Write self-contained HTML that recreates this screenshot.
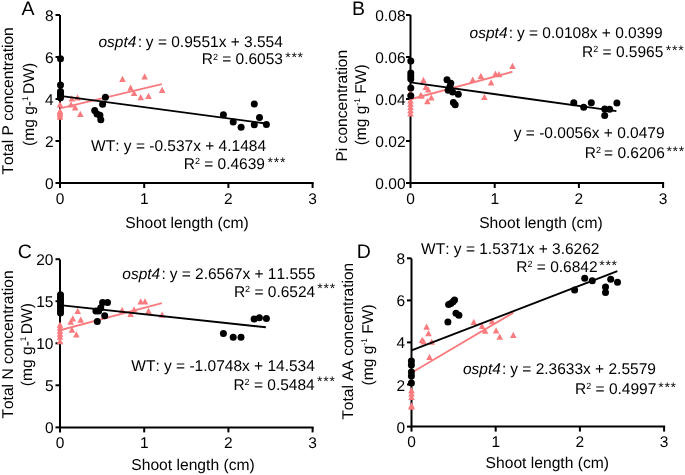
<!DOCTYPE html>
<html><head><meta charset="utf-8"><style>
html,body{margin:0;padding:0;background:#fff;}
svg{display:block;will-change:transform;font-kerning:none;text-rendering:geometricPrecision;font-family:"Liberation Sans",sans-serif;}
text{fill:#000;}
</style></head><body>
<svg width="685" height="475" viewBox="0 0 685 475">
<rect width="685" height="475" fill="#fff"/>
<path d="M60 15V183H313.6" fill="none" stroke="#000" stroke-width="2"/>
<path d="M55.5 183.0H60" stroke="#000" stroke-width="2"/>
<text x="53.5" y="189.0" text-anchor="end" font-size="15.5">0</text>
<path d="M55.5 141.0H60" stroke="#000" stroke-width="2"/>
<text x="53.5" y="147.0" text-anchor="end" font-size="15.5">2</text>
<path d="M55.5 99.0H60" stroke="#000" stroke-width="2"/>
<text x="53.5" y="105.0" text-anchor="end" font-size="15.5">4</text>
<path d="M55.5 57.0H60" stroke="#000" stroke-width="2"/>
<text x="53.5" y="63.0" text-anchor="end" font-size="15.5">6</text>
<path d="M55.5 15.0H60" stroke="#000" stroke-width="2"/>
<text x="53.5" y="21.0" text-anchor="end" font-size="15.5">8</text>
<path d="M60.0 183V188" stroke="#000" stroke-width="2"/>
<text x="60.0" y="203.8" text-anchor="middle" font-size="15.5">0</text>
<path d="M144.2 183V188" stroke="#000" stroke-width="2"/>
<text x="144.2" y="203.8" text-anchor="middle" font-size="15.5">1</text>
<path d="M228.4 183V188" stroke="#000" stroke-width="2"/>
<text x="228.4" y="203.8" text-anchor="middle" font-size="15.5">2</text>
<path d="M312.6 183V188" stroke="#000" stroke-width="2"/>
<text x="312.6" y="203.8" text-anchor="middle" font-size="15.5">3</text>
<path d="M56.70 107.50L63.30 107.50L60.00 101.25ZM56.70 114.00L63.30 114.00L60.00 107.75ZM56.70 115.80L63.30 115.80L60.00 109.55ZM56.70 117.60L63.30 117.60L60.00 111.35ZM56.70 119.80L63.30 119.80L60.00 113.55ZM67.70 107.60L74.30 107.60L71.00 101.35ZM68.50 101.50L75.10 101.50L71.80 95.25ZM71.90 110.40L78.50 110.40L75.20 104.15ZM74.20 100.60L80.80 100.60L77.50 94.35ZM77.00 117.00L83.60 117.00L80.30 110.75ZM119.20 81.90L125.80 81.90L122.50 75.65ZM141.30 79.60L147.90 79.60L144.60 73.35ZM127.30 90.70L133.90 90.70L130.60 84.45ZM130.80 95.90L137.40 95.90L134.10 89.65ZM137.40 100.30L144.00 100.30L140.70 94.05ZM145.20 98.90L151.80 98.90L148.50 92.65ZM158.80 93.00L165.40 93.00L162.10 86.75Z" fill="#F87C7F"/>
<path d="M60 108.37L161.88 84.10" stroke="#F87C7F" stroke-width="1.9"/>
<circle cx="60.5" cy="58.8" r="3.5"/>
<circle cx="60.5" cy="85" r="3.5"/>
<circle cx="60.5" cy="91.5" r="3.5"/>
<circle cx="60.5" cy="93.5" r="3.5"/>
<circle cx="60.5" cy="95.5" r="3.5"/>
<circle cx="60.5" cy="97.8" r="3.5"/>
<circle cx="105.4" cy="97.3" r="3.5"/>
<circle cx="102.6" cy="104.3" r="3.5"/>
<circle cx="94.7" cy="110.4" r="3.5"/>
<circle cx="97" cy="114" r="3.5"/>
<circle cx="99.9" cy="115.2" r="3.5"/>
<circle cx="100.8" cy="119.7" r="3.5"/>
<circle cx="223.4" cy="114.7" r="3.5"/>
<circle cx="233.2" cy="121.9" r="3.5"/>
<circle cx="241.1" cy="127.2" r="3.5"/>
<circle cx="254.3" cy="104.1" r="3.5"/>
<circle cx="259.5" cy="117.6" r="3.5"/>
<circle cx="254.3" cy="124.8" r="3.5"/>
<circle cx="266.4" cy="124.4" r="3.5"/>
<path d="M60 95.88L265.87 123.46" stroke="#000" stroke-width="1.9"/>
<path d="M410.5 15V183H664.1" fill="none" stroke="#000" stroke-width="2"/>
<path d="M406.0 183.0H410.5" stroke="#000" stroke-width="2"/>
<text x="405.5" y="189.0" text-anchor="end" font-size="15.5">0.00</text>
<path d="M406.0 141.0H410.5" stroke="#000" stroke-width="2"/>
<text x="405.5" y="147.0" text-anchor="end" font-size="15.5">0.02</text>
<path d="M406.0 99.0H410.5" stroke="#000" stroke-width="2"/>
<text x="405.5" y="105.0" text-anchor="end" font-size="15.5">0.04</text>
<path d="M406.0 57.0H410.5" stroke="#000" stroke-width="2"/>
<text x="405.5" y="63.0" text-anchor="end" font-size="15.5">0.06</text>
<path d="M406.0 15.0H410.5" stroke="#000" stroke-width="2"/>
<text x="405.5" y="21.0" text-anchor="end" font-size="15.5">0.08</text>
<path d="M410.5 183V188" stroke="#000" stroke-width="2"/>
<text x="410.5" y="203.8" text-anchor="middle" font-size="15.5">0</text>
<path d="M494.7 183V188" stroke="#000" stroke-width="2"/>
<text x="494.7" y="203.8" text-anchor="middle" font-size="15.5">1</text>
<path d="M578.9 183V188" stroke="#000" stroke-width="2"/>
<text x="578.9" y="203.8" text-anchor="middle" font-size="15.5">2</text>
<path d="M663.1 183V188" stroke="#000" stroke-width="2"/>
<text x="663.1" y="203.8" text-anchor="middle" font-size="15.5">3</text>
<path d="M407.20 95.50L413.80 95.50L410.50 89.25ZM407.20 103.50L413.80 103.50L410.50 97.25ZM407.20 106.80L413.80 106.80L410.50 100.55ZM407.20 110.00L413.80 110.00L410.50 103.75ZM407.20 113.30L413.80 113.30L410.50 107.05ZM407.20 116.50L413.80 116.50L410.50 110.25ZM420.10 83.00L426.70 83.00L423.40 76.75ZM422.50 90.10L429.10 90.10L425.80 83.85ZM424.90 92.50L431.50 92.50L428.20 86.25ZM428.00 100.40L434.60 100.40L431.30 94.15ZM418.20 98.80L424.80 98.80L421.50 92.55ZM424.10 104.30L430.70 104.30L427.40 98.05ZM417.40 98.20L424.00 98.20L420.70 91.95ZM469.40 82.80L476.00 82.80L472.70 76.55ZM477.60 78.90L484.20 78.90L480.90 72.65ZM487.80 85.40L494.40 85.40L491.10 79.15ZM492.20 76.70L498.80 76.70L495.50 70.45ZM495.70 77.20L502.30 77.20L499.00 70.95ZM509.20 69.10L515.80 69.10L512.50 62.85ZM481.10 100.00L487.70 100.00L484.40 93.75Z" fill="#F87C7F"/>
<path d="M410.5 99.21L512.38 71.77" stroke="#F87C7F" stroke-width="1.9"/>
<circle cx="410.8" cy="61.1" r="3.5"/>
<circle cx="410.8" cy="73" r="3.5"/>
<circle cx="410.8" cy="76" r="3.5"/>
<circle cx="410.8" cy="79" r="3.5"/>
<circle cx="410.8" cy="87.9" r="3.5"/>
<circle cx="410.8" cy="95.8" r="3.5"/>
<circle cx="447" cy="79.8" r="3.5"/>
<circle cx="450.8" cy="83.3" r="3.5"/>
<circle cx="449.9" cy="86.8" r="3.5"/>
<circle cx="448.2" cy="90.3" r="3.5"/>
<circle cx="452.6" cy="92" r="3.5"/>
<circle cx="458.3" cy="94.3" r="3.5"/>
<circle cx="453.4" cy="102.6" r="3.5"/>
<circle cx="455.2" cy="104.7" r="3.5"/>
<circle cx="573.8" cy="102.8" r="3.5"/>
<circle cx="583.7" cy="107.2" r="3.5"/>
<circle cx="591.3" cy="102.8" r="3.5"/>
<circle cx="604.7" cy="109" r="3.5"/>
<circle cx="609.6" cy="109.2" r="3.5"/>
<circle cx="604.7" cy="115.6" r="3.5"/>
<circle cx="616.9" cy="103.1" r="3.5"/>
<path d="M410.5 82.41L616.37 111.16" stroke="#000" stroke-width="1.9"/>
<path d="M60 259.4V427.4H313.6" fill="none" stroke="#000" stroke-width="2"/>
<path d="M55.5 427.4H60" stroke="#000" stroke-width="2"/>
<text x="53.5" y="433.4" text-anchor="end" font-size="15.5">0</text>
<path d="M55.5 385.3H60" stroke="#000" stroke-width="2"/>
<text x="53.5" y="391.3" text-anchor="end" font-size="15.5">5</text>
<path d="M55.5 343.3H60" stroke="#000" stroke-width="2"/>
<text x="53.5" y="349.3" text-anchor="end" font-size="15.5">10</text>
<path d="M55.5 301.2H60" stroke="#000" stroke-width="2"/>
<text x="53.5" y="307.2" text-anchor="end" font-size="15.5">15</text>
<path d="M55.5 259.2H60" stroke="#000" stroke-width="2"/>
<text x="53.5" y="265.2" text-anchor="end" font-size="15.5">20</text>
<path d="M60.0 427.4V432.4" stroke="#000" stroke-width="2"/>
<text x="60.0" y="448.2" text-anchor="middle" font-size="15.5">0</text>
<path d="M144.2 427.4V432.4" stroke="#000" stroke-width="2"/>
<text x="144.2" y="448.2" text-anchor="middle" font-size="15.5">1</text>
<path d="M228.4 427.4V432.4" stroke="#000" stroke-width="2"/>
<text x="228.4" y="448.2" text-anchor="middle" font-size="15.5">2</text>
<path d="M312.6 427.4V432.4" stroke="#000" stroke-width="2"/>
<text x="312.6" y="448.2" text-anchor="middle" font-size="15.5">3</text>
<path d="M56.70 327.80L63.30 327.80L60.00 321.55ZM56.70 330.80L63.30 330.80L60.00 324.55ZM56.70 333.80L63.30 333.80L60.00 327.55ZM56.70 336.80L63.30 336.80L60.00 330.55ZM56.70 339.80L63.30 339.80L60.00 333.55ZM56.70 344.30L63.30 344.30L60.00 338.05ZM74.40 313.90L81.00 313.90L77.70 307.65ZM69.50 321.60L76.10 321.60L72.80 315.35ZM77.40 322.70L84.00 322.70L80.70 316.45ZM67.40 324.80L74.00 324.80L70.70 318.55ZM68.60 332.70L75.20 332.70L71.90 326.45ZM73.00 337.60L79.60 337.60L76.30 331.35ZM118.90 312.90L125.50 312.90L122.20 306.65ZM127.30 316.90L133.90 316.90L130.60 310.65ZM130.80 312.50L137.40 312.50L134.10 306.25ZM137.40 304.60L144.00 304.60L140.70 298.35ZM141.70 304.60L148.30 304.60L145.00 298.35ZM145.20 313.90L151.80 313.90L148.50 307.65ZM158.80 317.80L165.40 317.80L162.10 311.55Z" fill="#F87C7F"/>
<path d="M60 330.22L161.88 303.19" stroke="#F87C7F" stroke-width="1.9"/>
<circle cx="60.5" cy="294.7" r="3.5"/>
<circle cx="60.5" cy="297.3" r="3.5"/>
<circle cx="60.5" cy="300" r="3.5"/>
<circle cx="60.5" cy="302.6" r="3.5"/>
<circle cx="60.5" cy="305.2" r="3.5"/>
<circle cx="60.5" cy="307.8" r="3.5"/>
<circle cx="60.5" cy="310.4" r="3.5"/>
<circle cx="60.5" cy="313" r="3.5"/>
<circle cx="102.6" cy="302.5" r="3.5"/>
<circle cx="107.5" cy="302.5" r="3.5"/>
<circle cx="100.8" cy="307.8" r="3.5"/>
<circle cx="95.9" cy="310.9" r="3.5"/>
<circle cx="98.7" cy="310.9" r="3.5"/>
<circle cx="104.7" cy="315.7" r="3.5"/>
<circle cx="97.3" cy="321.4" r="3.5"/>
<circle cx="223.4" cy="333.5" r="3.5"/>
<circle cx="233.2" cy="337.2" r="3.5"/>
<circle cx="241" cy="337.2" r="3.5"/>
<circle cx="254.1" cy="319.1" r="3.5"/>
<circle cx="259.4" cy="317.7" r="3.5"/>
<circle cx="266.4" cy="318.4" r="3.5"/>
<path d="M60 305.17L265.87 327.27" stroke="#000" stroke-width="1.9"/>
<path d="M411.5 258.6V426.6H665.1" fill="none" stroke="#000" stroke-width="2"/>
<path d="M407.0 426.6H411.5" stroke="#000" stroke-width="2"/>
<text x="405.0" y="432.6" text-anchor="end" font-size="15.5">0</text>
<path d="M407.0 384.5H411.5" stroke="#000" stroke-width="2"/>
<text x="405.0" y="390.5" text-anchor="end" font-size="15.5">2</text>
<path d="M407.0 342.4H411.5" stroke="#000" stroke-width="2"/>
<text x="405.0" y="348.4" text-anchor="end" font-size="15.5">4</text>
<path d="M407.0 300.4H411.5" stroke="#000" stroke-width="2"/>
<text x="405.0" y="306.4" text-anchor="end" font-size="15.5">6</text>
<path d="M407.0 258.3H411.5" stroke="#000" stroke-width="2"/>
<text x="405.0" y="264.3" text-anchor="end" font-size="15.5">8</text>
<path d="M411.5 426.6V431.6" stroke="#000" stroke-width="2"/>
<text x="411.5" y="447.4" text-anchor="middle" font-size="15.5">0</text>
<path d="M495.7 426.6V431.6" stroke="#000" stroke-width="2"/>
<text x="495.7" y="447.4" text-anchor="middle" font-size="15.5">1</text>
<path d="M579.9 426.6V431.6" stroke="#000" stroke-width="2"/>
<text x="579.9" y="447.4" text-anchor="middle" font-size="15.5">2</text>
<path d="M664.1 426.6V431.6" stroke="#000" stroke-width="2"/>
<text x="664.1" y="447.4" text-anchor="middle" font-size="15.5">3</text>
<path d="M408.20 393.20L414.80 393.20L411.50 386.95ZM408.20 396.50L414.80 396.50L411.50 390.25ZM408.20 400.00L414.80 400.00L411.50 393.75ZM408.20 408.60L414.80 408.60L411.50 402.35ZM408.20 409.80L414.80 409.80L411.50 403.55ZM423.30 329.70L429.90 329.70L426.60 323.45ZM425.20 336.20L431.80 336.20L428.50 329.95ZM418.80 343.10L425.40 343.10L422.10 336.85ZM420.30 344.50L426.90 344.50L423.60 338.25ZM428.40 344.80L435.00 344.80L431.70 338.55ZM426.20 360.00L432.80 360.00L429.50 353.75ZM470.50 325.10L477.10 325.10L473.80 318.85ZM478.70 328.90L485.30 328.90L482.00 322.65ZM481.80 333.80L488.40 333.80L485.10 327.55ZM488.80 324.30L495.40 324.30L492.10 318.05ZM492.80 333.40L499.40 333.40L496.10 327.15ZM496.40 339.80L503.00 339.80L499.70 333.55ZM510.00 337.90L516.60 337.90L513.30 331.65Z" fill="#F87C7F"/>
<path d="M411.5 372.78L513.38 312.62" stroke="#F87C7F" stroke-width="1.9"/>
<circle cx="411.4" cy="361" r="3.5"/>
<circle cx="411.4" cy="365" r="3.5"/>
<circle cx="411.4" cy="372" r="3.5"/>
<circle cx="411.4" cy="376" r="3.5"/>
<circle cx="411.4" cy="383" r="3.5"/>
<circle cx="454.5" cy="300" r="3.5"/>
<circle cx="453" cy="301.8" r="3.5"/>
<circle cx="450.8" cy="303.5" r="3.5"/>
<circle cx="448.6" cy="304.4" r="3.5"/>
<circle cx="456" cy="313.3" r="3.5"/>
<circle cx="458.9" cy="315.3" r="3.5"/>
<circle cx="447.9" cy="322.1" r="3.5"/>
<circle cx="574.6" cy="290" r="3.5"/>
<circle cx="584.7" cy="278.2" r="3.5"/>
<circle cx="592.3" cy="280.8" r="3.5"/>
<circle cx="605.5" cy="286.9" r="3.5"/>
<circle cx="605.5" cy="292.4" r="3.5"/>
<circle cx="610.7" cy="279.3" r="3.5"/>
<circle cx="617.5" cy="282.3" r="3.5"/>
<path d="M411.5 350.30L617.37 271.23" stroke="#000" stroke-width="1.9"/>
<text x="21.6" y="15" font-size="19.5">A</text>
<text x="352" y="15" font-size="19.5">B</text>
<text x="17.8" y="258" font-size="19.5">C</text>
<text x="356.7" y="258" font-size="19.5">D</text>
<text x="98.5" y="46.6" font-size="15.5"><tspan font-style="italic">ospt4</tspan><tspan dx="1.3">:</tspan><tspan dx="-0.5"> y = 0.9551x + 3.554</tspan></text>
<text x="201.7" y="64.4" font-size="15.5">R<tspan font-size="9" dy="-4.8">2</tspan><tspan dy="4.8" dx="0"> = 0.6053</tspan></text>
<text x="285.2" y="62.400000000000006" font-size="14" style="letter-spacing:0.75px">***</text>
<text x="91.1" y="150.8" font-size="15.5"><tspan>WT</tspan><tspan dx="0">:</tspan><tspan dx="0"> y = -0.537x + 4.1484</tspan></text>
<text x="183.7" y="169" font-size="15.5">R<tspan font-size="9" dy="-4.8">2</tspan><tspan dy="4.8" dx="0"> = 0.4639</tspan></text>
<text x="267.6" y="167" font-size="14" style="letter-spacing:0.75px">***</text>
<text x="469.6" y="37.6" font-size="15.5"><tspan font-style="italic">ospt4</tspan><tspan dx="1.3">:</tspan><tspan dx="-0.5"> y = 0.0108x + 0.0399</tspan></text>
<text x="582" y="57" font-size="15.5">R<tspan font-size="9" dy="-4.8">2</tspan><tspan dy="4.8" dx="0"> = 0.5965</tspan></text>
<text x="665.8" y="55" font-size="14" style="letter-spacing:0.75px">***</text>
<text x="513.8" y="138.2" font-size="15.5">y = -0.0056x + 0.0479</text>
<text x="584.7" y="158" font-size="15.5">R<tspan font-size="9" dy="-4.8">2</tspan><tspan dy="4.8" dx="-1.2"> = 0.6206</tspan></text>
<text x="666.4" y="156" font-size="14" style="letter-spacing:0.75px">***</text>
<text x="122.3" y="278.8" font-size="15.5"><tspan font-style="italic">ospt4</tspan><tspan dx="1.3">:</tspan><tspan dx="-0.5"> y = 2.6567x + 11.555</tspan></text>
<text x="233.9" y="297" font-size="15.5">R<tspan font-size="9" dy="-4.8">2</tspan><tspan dy="4.8" dx="0"> = 0.6524</tspan></text>
<text x="317.3" y="293" font-size="14" style="letter-spacing:0.75px">***</text>
<text x="131.3" y="371.1" font-size="15.5"><tspan>WT</tspan><tspan dx="0">:</tspan><tspan dx="0"> y = -1.0748x + 14.534</tspan></text>
<text x="233.4" y="390" font-size="15.5">R<tspan font-size="9" dy="-4.8">2</tspan><tspan dy="4.8" dx="0"> = 0.5484</tspan></text>
<text x="317" y="386" font-size="14" style="letter-spacing:0.75px">***</text>
<text x="421.1" y="254.4" font-size="15.5"><tspan>WT</tspan><tspan dx="0">:</tspan><tspan dx="0"> y = 1.5371x + 3.6262</tspan></text>
<text x="516.3" y="272" font-size="15.5">R<tspan font-size="9" dy="-4.8">2</tspan><tspan dy="4.8" dx="0"> = 0.6842</tspan></text>
<text x="599.2" y="270" font-size="14" style="letter-spacing:0.75px">***</text>
<text x="462.9" y="374" font-size="15.5"><tspan font-style="italic">ospt4</tspan><tspan dx="1.3">:</tspan><tspan dx="-0.5"> y = 2.3633x + 2.5579</tspan></text>
<text x="575" y="394" font-size="15.5">R<tspan font-size="9" dy="-4.8">2</tspan><tspan dy="4.8" dx="0"> = 0.4997</tspan></text>
<text x="658.2" y="392" font-size="14" style="letter-spacing:0.75px">***</text>
<text transform="translate(12.9 100.9) rotate(-90)" x="0" y="0" text-anchor="middle" font-size="15.6">Total P concentration</text>
<text transform="translate(34.0 104.4) rotate(-90)" x="0" y="0" text-anchor="middle" font-size="15.6">(mg g-<tspan font-size="8.4" dy="-5.6">1 </tspan><tspan dy="5.6">DW)</tspan></text>
<text transform="translate(346.8 105.7) rotate(-90)" x="0" y="0" text-anchor="middle" font-size="15.6">Pi concentration</text>
<text transform="translate(365.8 104.8) rotate(-90)" x="0" y="0" text-anchor="middle" font-size="15.6">(mg g<tspan font-size="8.4" dy="-5.6">-1</tspan><tspan dy="5.6"> FW)</tspan></text>
<text transform="translate(13.1 344.5) rotate(-90)" x="0" y="0" text-anchor="middle" font-size="15.6">Total N concentration</text>
<text transform="translate(31.7 344.6) rotate(-90)" x="0" y="0" text-anchor="middle" font-size="15.6">(mg g-<tspan font-size="8.4" dy="-5.6">1 </tspan><tspan dy="5.6">DW)</tspan></text>
<text transform="translate(352.7 341.2) rotate(-90)" x="0" y="0" text-anchor="middle" font-size="15.5">Total AA concentration</text>
<text transform="translate(372.7 344.85) rotate(-90)" x="0" y="0" text-anchor="middle" font-size="15.6">(mg g<tspan font-size="8.4" dy="-5.6">-1</tspan><tspan dy="5.6"> FW)</tspan></text>
<text x="187.1" y="227.8" text-anchor="middle" font-size="15.65">Shoot length (cm)</text>
<text x="540.9" y="228.2" text-anchor="middle" font-size="15.65">Shoot length (cm)</text>
<text x="193" y="469.8" text-anchor="middle" font-size="15.65">Shoot length (cm)</text>
<text x="547.3" y="467.9" text-anchor="middle" font-size="15.65">Shoot length (cm)</text>
</svg></body></html>
